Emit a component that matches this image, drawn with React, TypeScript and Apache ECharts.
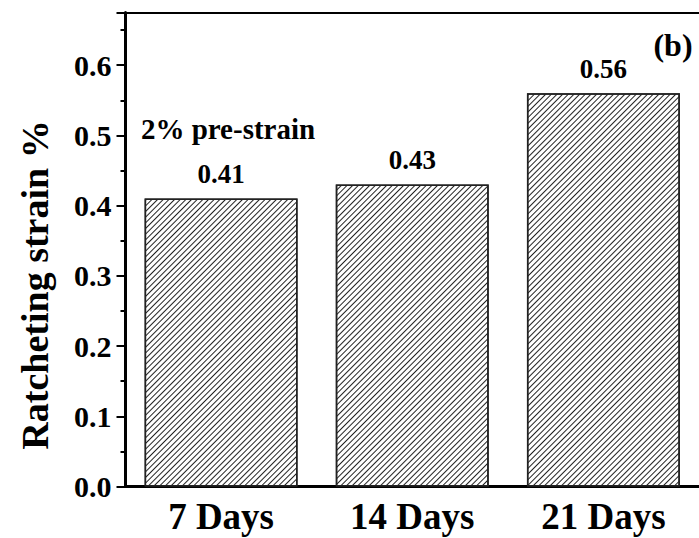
import React, { useEffect, useRef } from "react";
import * as echarts from "echarts";

const categories = ["7 Days", "14 Days", "21 Days"];
const values = [0.41, 0.43, 0.56];
const yTicks = [0, 0.1, 0.2, 0.3, 0.4, 0.5, 0.6];
const annotation = "2% pre-strain";
const panelLabel = "(b)";
const yTitle = "Ratcheting strain %";

const FONT = "'Liberation Serif', 'Times New Roman', serif";

export default function App() {
  const ref = useRef<HTMLDivElement>(null);
  useEffect(() => {
    if (!ref.current) return;
    const chart = echarts.init(ref.current, undefined, { renderer: "svg" });
    chart.setOption({
      animation: false,
      backgroundColor: "#fff",
      grid: { left: 125.5, right: -5.5, top: 12.5, bottom: 51.5, containLabel: false },
      xAxis: [
        {
          type: "category",
          data: categories,
          axisLine: { show: true, lineStyle: { color: "#000", width: 3 } },
          axisTick: { show: false },
          axisLabel: {
            color: "#000",
            fontFamily: FONT,
            fontWeight: "bold",
            fontSize: 37,
            margin: 11,
          },
        },
        {
          type: "category",
          position: "top",
          data: categories,
          axisLine: { show: true, lineStyle: { color: "#000", width: 2 } },
          axisTick: { show: false },
          axisLabel: { show: false },
        },
      ],
      yAxis: {
        type: "value",
        min: 0,
        max: 0.675,
        interval: 0.1,
        axisLine: { show: true, lineStyle: { color: "#000", width: 3 } },
        axisTick: { show: true, inside: false, length: 9, lineStyle: { color: "#000", width: 2 } },
        minorTick: { show: true, splitNumber: 2, length: 5, lineStyle: { color: "#000", width: 2 } },
        splitLine: { show: false },
        axisLabel: {
          color: "#000",
          fontFamily: FONT,
          fontWeight: "bold",
          fontSize: 30,
          margin: 14,
          formatter: (v: number) => (yTicks.some((t) => Math.abs(t - v) < 1e-9) ? v.toFixed(1) : ""),
        },
      },
      series: [
        {
          type: "bar",
          data: values,
          barWidth: "80%",
          itemStyle: {
            color: "#fff",
            borderColor: "#222",
            borderWidth: 1.5,
            decal: {
              symbol: "rect",
              symbolSize: 1,
              color: "#222",
              backgroundColor: "#fff",
              dashArrayX: [1, 0],
              dashArrayY: [0.9, 2.1],
              rotation: -Math.PI / 4,
            },
          },
          label: {
            show: true,
            position: "top",
            distance: 11,
            color: "#000",
            fontFamily: FONT,
            fontWeight: "bold",
            fontSize: 27,
            formatter: (p: any) => p.value.toFixed(2),
          },
        },
      ],
      graphic: [
        {
          type: "text",
          x: 35,
          y: 285,
          rotation: Math.PI / 2,
          style: {
            text: yTitle,
            fill: "#000",
            font: `bold 38px ${FONT}`,
            textAlign: "center",
            textVerticalAlign: "middle",
          },
        },
        {
          type: "text",
          x: 228,
          y: 129,
          style: {
            text: annotation,
            fill: "#000",
            font: `bold 29px ${FONT}`,
            textAlign: "center",
            textVerticalAlign: "middle",
          },
        },
        {
          type: "text",
          x: 673,
          y: 45,
          style: {
            text: panelLabel,
            fill: "#000",
            font: `bold 32px ${FONT}`,
            textAlign: "center",
            textVerticalAlign: "middle",
          },
        },
      ],
    });
    return () => chart.dispose();
  }, []);
  return (
    <div
      ref={ref}
      style={{ position: "absolute", left: 0, top: 0, width: 699, height: 538 }}
    />
  );
}
